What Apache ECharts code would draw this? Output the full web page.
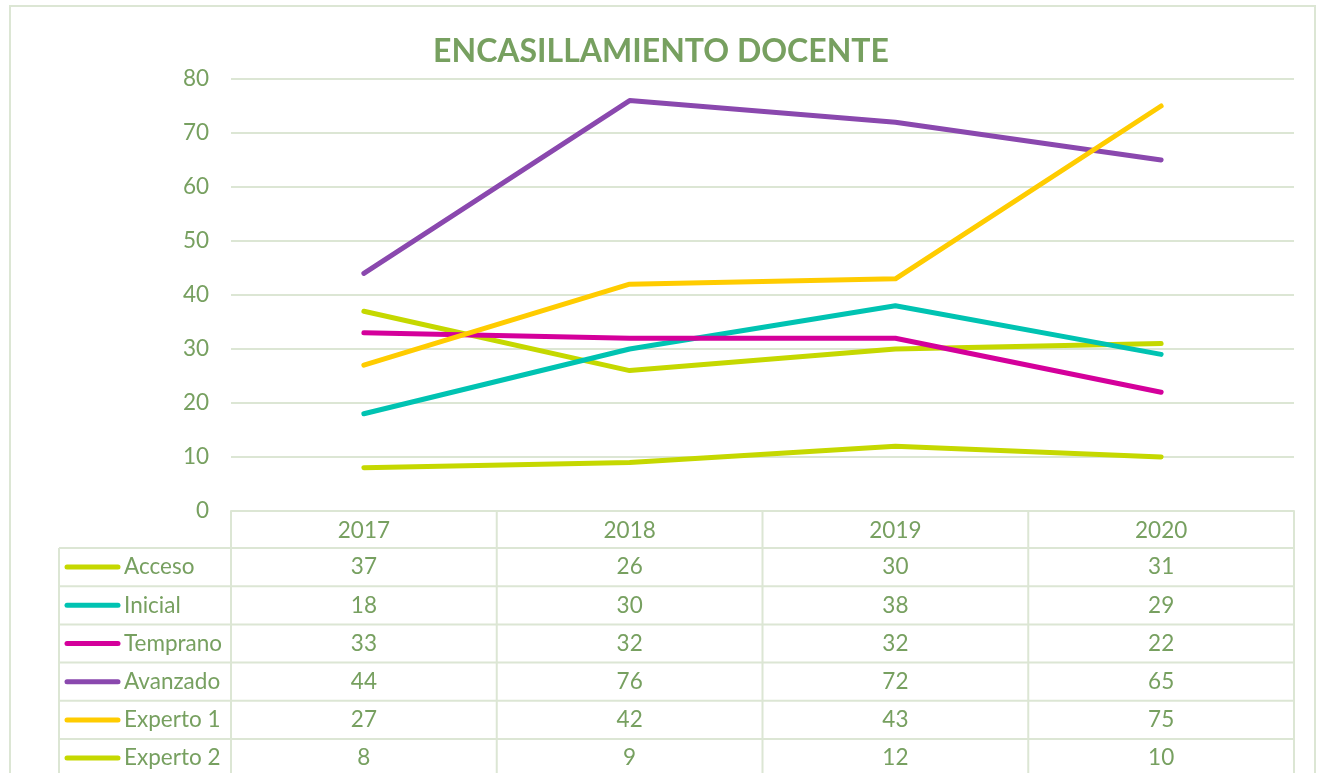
<!DOCTYPE html>
<html>
<head>
<meta charset="utf-8">
<script src="https://cdn.jsdelivr.net/npm/echarts@6/dist/echarts.min.js"></script>
<style>
  html, body { margin: 0; padding: 0; background: #fff; }
  #chart { width: 1320px; height: 773px; }
</style>
</head>
<body>
<div id="chart"></div>
<script>
  // data
  var years = ['2017', '2018', '2019', '2020'];
  var seriesNames = ['Acceso', 'Inicial', 'Temprano', 'Avanzado', 'Experto 1', 'Experto 2'];
  var acceso = [37, 26, 30, 31];
  var inicial = [18, 30, 38, 29];
  var temprano = [33, 32, 32, 22];
  var avanzado = [44, 76, 72, 65];
  var experto1 = [27, 42, 43, 75];
  var experto2 = [8, 9, 12, 10];
  var seriesColors = ['#C5D800', '#00C3B2', '#D4009B', '#8A48AE', '#FFCC00', '#C5D800'];

  var allValues = [acceso, inicial, temprano, avanzado, experto1, experto2];
  var green = '#77A060';
  var lineGrey = '#DCE6D4';
  var font = 'Lato, "Liberation Sans", sans-serif';
  var fs = 22.5;

  var chart = echarts.init(document.getElementById('chart'));

  var gridLeft = 231, gridRight = 1294, gridTop = 79, gridBottom = 511;

  chart.setOption({
    animation: false,
    textStyle: { fontFamily: font },
    title: {
      text: 'ENCASILLAMIENTO DOCENTE',
      left: 656,
      top: 31,
      textAlign: 'center',
      textStyle: { color: green, fontSize: 32, fontWeight: 'bold', fontFamily: font }
    },
    grid: {
      left: gridLeft,
      right: 1320 - gridRight,
      top: gridTop,
      bottom: 773 - gridBottom,
      containLabel: false
    },
    xAxis: {
      type: 'category',
      data: years,
      boundaryGap: true,
      axisTick: { show: false },
      axisLine: { show: true, lineStyle: { color: lineGrey, width: 2 } },
      axisLabel: { color: green, fontSize: fs, margin: 8, fontFamily: font }
    },
    yAxis: {
      type: 'value',
      min: 0,
      max: 80,
      interval: 10,
      axisLine: { show: false },
      axisTick: { show: false },
      axisLabel: { color: green, fontSize: fs, margin: 22, fontFamily: font },
      splitLine: { lineStyle: { color: lineGrey, width: 2 } }
    },
    series: seriesNames.map(function (name, i) {
      return {
        name: name,
        type: 'line',
        data: allValues[i],
        showSymbol: false,
        lineStyle: { color: seriesColors[i], width: 5, cap: 'round', join: 'round' },
        itemStyle: { color: seriesColors[i] },
        z: 2
      };
    })
  });

  // data table under the plot
  var tableLeft = 59, headerBottom = 548, rowH = 38.2;
  var colEdges = [gridLeft];
  for (var c = 1; c <= years.length; c++) {
    colEdges.push(gridLeft + (gridRight - gridLeft) * c / years.length);
  }
  var elements = [];

  // outer frame of the chart
  elements.push({
    type: 'rect',
    shape: { x: 10, y: 6, width: 1305, height: 800 },
    style: { fill: null, stroke: lineGrey, lineWidth: 2 },
    silent: true
  });

  for (var r = 0; r <= seriesNames.length; r++) {
    var y = headerBottom + r * rowH;
    elements.push({
      type: 'line',
      shape: { x1: tableLeft, y1: y, x2: gridRight, y2: y },
      style: { stroke: lineGrey, lineWidth: 2 },
      silent: true
    });
  }
  elements.push({
    type: 'line',
    shape: { x1: tableLeft, y1: headerBottom, x2: tableLeft, y2: 800 },
    style: { stroke: lineGrey, lineWidth: 2 },
    silent: true
  });
  colEdges.forEach(function (x) {
    elements.push({
      type: 'line',
      shape: { x1: x, y1: gridBottom, x2: x, y2: 800 },
      style: { stroke: lineGrey, lineWidth: 2 },
      silent: true
    });
  });

  seriesNames.forEach(function (name, i) {
    var cy = headerBottom + i * rowH + rowH / 2;
    elements.push({
      type: 'line',
      shape: { x1: 67, y1: cy, x2: 118, y2: cy },
      style: { stroke: seriesColors[i], lineWidth: 5, lineCap: 'round' },
      silent: true
    });
    elements.push({
      type: 'text',
      x: 124,
      y: cy,
      style: {
        text: name, fill: green, fontSize: fs, fontFamily: font,
        align: 'left', verticalAlign: 'middle'
      },
      silent: true
    });
    years.forEach(function (yr, j) {
      var cx = chart.convertToPixel({ xAxisIndex: 0 }, yr);
      elements.push({
        type: 'text',
        x: cx,
        y: cy,
        style: {
          text: String(allValues[i][j]), fill: green, fontSize: fs, fontFamily: font,
          align: 'center', verticalAlign: 'middle'
        },
        silent: true
      });
    });
  });

  chart.setOption({ graphic: { elements: elements } });
</script>
</body>
</html>
